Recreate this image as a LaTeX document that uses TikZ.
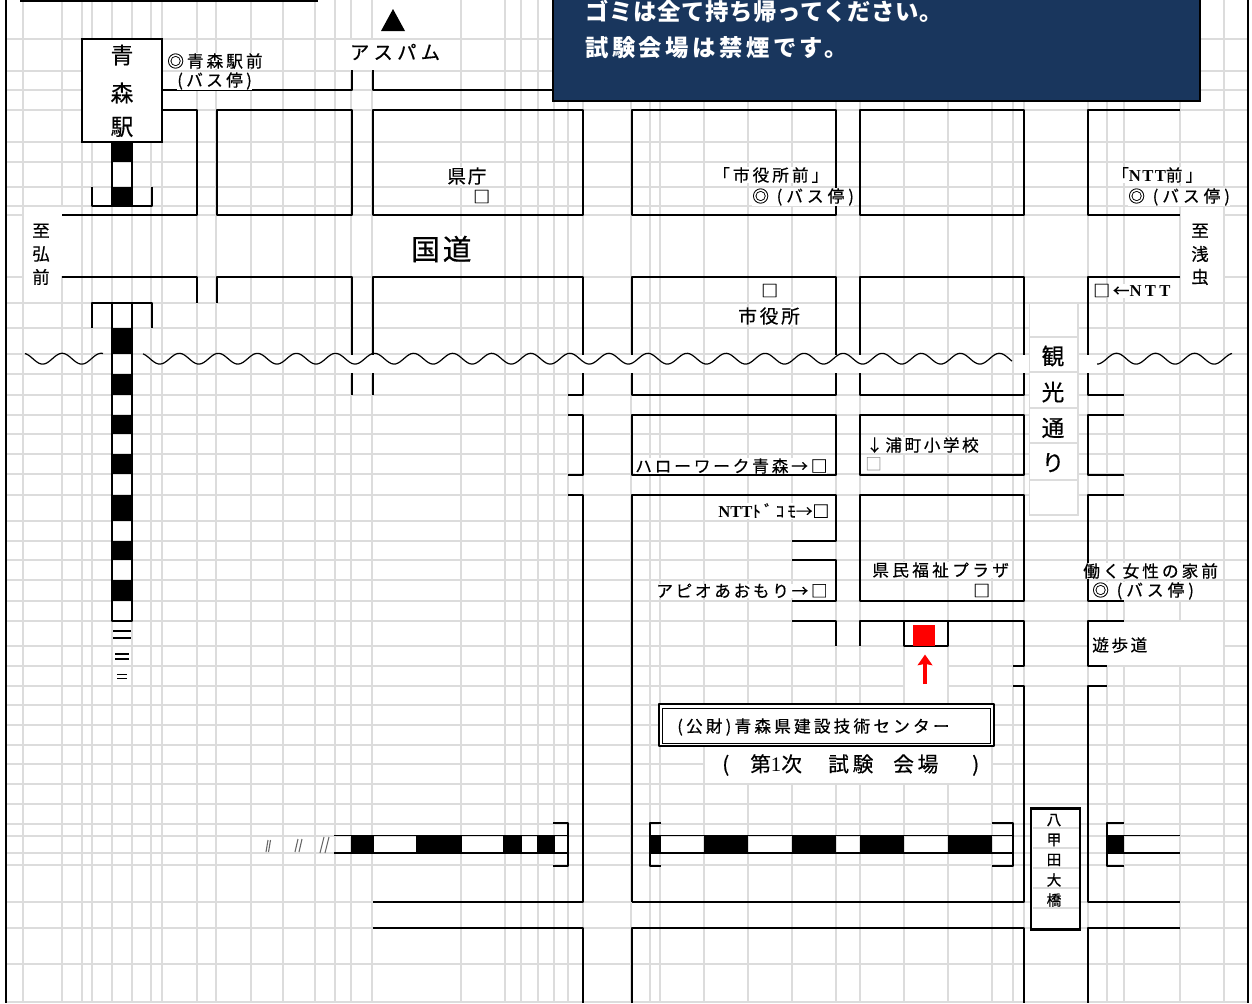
\documentclass[tikz,border=0pt]{standalone}
\usepackage{fontspec}
\usetikzlibrary{arrows.meta}
\setmainfont{Liberation Serif}
\newfontfamily\jp[FakeBold=0.5]{Noto Sans CJK JP}
\newfontfamily\jpb{Noto Sans CJK JP}
\newfontfamily\lat{Liberation Serif}
\newcommand\tfs[2]{\fontsize{#1}{#1}\selectfont\addfontfeature{LetterSpace=#2}}
\newcommand\ntt[1]{{\lat\bfseries\addfontfeature{LetterSpace=#1}NTT}}
\definecolor{gridgray}{HTML}{DCDCDC}
\definecolor{navy}{HTML}{19365D}
\tikzset{
  gridline/.style={draw=gridgray,line width=1.5pt},
  road/.style={draw=black,line width=1.5pt,line join=round},
  thinrail/.style={draw=black,line width=1.2pt,line join=round},
  wave/.style={draw=black,line width=0.9pt},
  cjkstrut/.style={execute at begin node={\rule[-.08em]{0pt}{.86em}}},
  lbl/.style={fill=white,inner sep=0pt,cjkstrut,anchor=west,font={\jp\tfs{#1}{18}}},
  lbl/.default=12.5,
  buslbl/.style={fill=white,inner sep=0pt,cjkstrut,anchor=west,font={\jp\tfs{12.5}{24}}},
  bare/.style={inner sep=0pt,cjkstrut,font={\jp\tfs{#1}{0}}},
  bare/.default=12.5,
  mask/.style={fill=white,draw=none},
  cellbox/.style={draw=gridgray,line width=1.2pt,fill=white},
  slash/.style={draw=black!60,line width=0.8pt}
}
\begin{document}
\begin{tikzpicture}[x=0.75pt,y=-0.75pt]
\useasboundingbox (0,0) rectangle (1252,1003);
\fill[white] (0,0) rectangle (1252,1003);
% spreadsheet grid
\foreach \gx in {22.7,62,81.7,92.3,112,131.7,151.3,161.7,196.7,216.3,251.3,283,315,334.7,351.3,372.3,460.7,504.7,521,537.7,554,568,582.7,631,649.7,660,704,747.7,792,836,860,904,948,992,1013,1024,1087.7,1107,1124,1180,1223.7}
  \draw[gridline] (\gx,0) -- (\gx,1003);
\foreach \gy in {38.7,70.7,90.3,109.7,142,162,186.7,206,214.7,276.7,302.7,328,354,373.5,395,415,434,454,474,495,521,541,560,580,601,621,646,666,686,705,725,745,764,784,804,824,836,853,865,902,928,964,1002}
  \draw[gridline] (6,\gy) -- (1248,\gy);
% white areas without grid
\fill[mask] (23.6,207) rectangle (63,276);
\fill[mask] (23.6,276) rectangle (61,301.8);
\fill[mask] (1181,207) rectangle (1222.8,301.8);
\fill[mask] (343,39.7) rectangle (445,69.7);
\fill[mask] (905,647) rectangle (947,704);
\fill[mask] (705,747) rectangle (991,783);
\fill[mask] (1089,622) rectangle (1222.8,665);
% borders
\draw[road,line width=2pt] (6,0) -- (6,1003);
\draw[road,line width=2pt] (1248,0) -- (1248,1003);
\draw[road] (20,0.5) -- (318,0.5);
% upper roads
\draw[road] (162,90.3) -- (352,90.3) -- (352,70);
\draw[road] (372.5,70) -- (372.5,90.3) -- (553,90.3);
\draw[road] (162,110) -- (197,110) -- (197,214.7) -- (62,214.7);
\draw[road] (216.5,110) rectangle (352,214.7);
\draw[road] (372.5,110) rectangle (583,214.7);
\draw[road] (631.5,110) rectangle (836,214.7);
\draw[road] (860,110) rectangle (1024,214.7);
\draw[road] (1180,110) -- (1088,110) -- (1088,214.7) -- (1180,214.7);
% second row of blocks
\draw[road] (62,276.7) -- (197,276.7) -- (197,302.7);
\draw[road] (216.5,302.7) -- (216.5,276.7) -- (352,276.7) -- (352,395);
\draw[road] (372.5,395) -- (372.5,276.7) -- (583,276.7) -- (583,395) -- (568,395);
\draw[road] (631.5,276.7) rectangle (836,395);
\draw[road] (860,276.7) rectangle (1024,395);
\draw[road] (1180,276.7) -- (1088,276.7) -- (1088,395) -- (1124,395);
% gaps where the wavy break crosses the roads
\foreach \gapx in {352,372.5,583,631.5,836,860,1024,1088}
  \fill[white] (\gapx-2,355) rectangle (\gapx+2,372.6);
% third row
\draw[road] (568,415) -- (583,415) -- (583,475) -- (568,475);
\draw[road] (631.5,415) rectangle (836,475);
\draw[road] (860,415) rectangle (1024,475);
\draw[road] (1124,415) -- (1088,415) -- (1088,475) -- (1124,475);
% fourth row
\draw[road] (568,495) -- (583,495) -- (583,902) -- (372.5,902);
\draw[road] (372.5,928) -- (583,928) -- (583,1003);
\draw[road] (631.5,902) -- (631.5,495) -- (836,495) -- (836,541) -- (792,541);
\draw[road] (792,560) -- (836,560) -- (836,601) -- (792,601);
\draw[road] (792,621) -- (836,621) -- (836,646);
\draw[road] (860,495) rectangle (1024,601);
\draw[road] (860,646) -- (860,621) -- (1024,621) -- (1024,666) -- (1013,666);
\draw[road] (1013,686) -- (1024,686) -- (1024,902) -- (631.5,902);
\draw[road] (631.5,1003) -- (631.5,928) -- (1024,928) -- (1024,1003);
\draw[road] (1124,495) -- (1088,495) -- (1088,601) -- (1124,601);
\draw[road] (1124,621) -- (1088,621) -- (1088,666) -- (1107,666);
\draw[road] (1107,686) -- (1088,686) -- (1088,902) -- (1180,902);
\draw[road] (1180,928) -- (1088,928) -- (1088,1003);
% target building
\draw[road] (904,621) -- (904,646) -- (948,646) -- (948,621);
\node[fill=red,inner sep=0pt,minimum width=16.1pt,minimum height=15.75pt] (redbuilding) at (924,635.5) {};
\coordinate (arrowtail) at (925,684);
\draw[red,line width=2.6pt,-{Stealth[length=8pt,width=11pt,inset=1pt]},shorten >=6.2pt] (arrowtail) -- (redbuilding.south -| arrowtail);
% vertical railway
\fill[black] (112,142) rectangle (132,162);
\fill[black] (112,186.7) rectangle (132,206);
\draw[thinrail] (112,142) -- (112,206) (132,142) -- (132,206);
\draw[thinrail] (92,186.7) -- (92,206) -- (152,206) -- (152,186.7);
\draw[thinrail] (92,328) -- (92,302.7) -- (152,302.7) -- (152,328);
\draw[thinrail] (112,302.7) -- (112,621) -- (132,621) -- (132,302.7);
\foreach \ra/\rb in {328/354,373.5/395,415/434,454/474,495/521,541/560,580/601}
  \fill[black] (112,\ra) rectangle (132,\rb);
\draw[draw=black,line width=0.9pt] (113,631) -- (131,631) (113,638) -- (131,638);
\draw[draw=black,line width=0.8pt] (115,654) -- (129,654) (115,659) -- (129,659);
\draw[draw=black,line width=0.7pt] (117,674) -- (127,674) (117,678) -- (127,678);
% horizontal railway, left part
\foreach \ra/\rb in {351/374,416/462,503/522,537/555}
  \fill[black] (\ra,835.5) rectangle (\rb,853);
\draw[thinrail] (334,835.5) -- (568,835.5) (334,853) -- (568,853);
\draw[thinrail] (553,823) -- (568,823) -- (568,866) -- (553,866);
\draw[slash] (266,852) -- (268,840) (268.5,852) -- (270.5,840);
\draw[slash] (295,852) -- (298,839) (299,852) -- (302,839);
\draw[slash] (320,853) -- (324,837) (325,853) -- (329,837);
% horizontal railway, middle part
\foreach \ra/\rb in {650/661,704/748,792/836,860/904,948/992}
  \fill[black] (\ra,835.5) rectangle (\rb,853);
\draw[thinrail] (650,835.5) -- (1013,835.5) (650,853) -- (1013,853);
\draw[thinrail] (661,823) -- (650,823) -- (650,866) -- (661,866);
\draw[thinrail] (992,823) -- (1013,823) -- (1013,866) -- (992,866);
% horizontal railway, right part
\fill[black] (1107,835.5) rectangle (1124,853);
\draw[thinrail] (1107,835.5) -- (1180,835.5) (1107,853) -- (1180,853);
\draw[thinrail] (1124,823) -- (1107,823) -- (1107,866) -- (1124,866);
% wavy break lines
\foreach \wa/\wb in {25/103,143/1012,1097/1232}
  \draw[wave] plot[domain=\wa:\wb,samples=400] (\x,{358.7-5.4*cos((\x-62.15)/39.05*360)});
% navy notice
\fill[navy,draw=black,line width=0.8pt] (553,-2) rectangle (1200,101);
\node[inner sep=0pt,anchor=west,text=white,font={\jpb\bfseries\tfs{17.5}{3}}] (notice1) at (585,11) {ゴミは全て持ち帰ってください。};
\node[inner sep=0pt,anchor=west,text=white,font={\jpb\bfseries\tfs{17.5}{15}}] (notice2) at (585,48) {試験会場は禁煙です。};
% Aomori station
\node[draw=black,line width=1.2pt,fill=white,minimum width=60pt,minimum height=77pt,inner sep=0pt] (station) at (122,90.5) {};
\node[bare=17] (st1) at (122,55) {青};
\node[bare=17] (st2) at (122,93) {森};
\node[bare=17] (st3) at (122,127) {駅};
% labels
\node[fill=white,inner sep=0pt,font={\jp\tfs{14.5}{22}}] (aspam) at (395,52) {アスパム};
\fill[black] (381,31) -- (393,9) -- (405,31) -- cycle;
\node[lbl] (aomoriekimae) at (167,61) {◎青森駅前};
\node[lbl,font={\jp\tfs{12.5}{20}}] (bus1) at (177,81) {(バス停)};
\node[lbl,font={\jp\tfs{14}{10}}] (kencho) at (447,176) {県庁};
\node[lbl] (kenchobox) at (473,197) {□};
\node[lbl] (shiyakushomae) at (713,175) {「市役所前」};
\node[buslbl] (bus2) at (752,197) {◎ (バス停)};
\node[lbl] (nttmae) at (1112,175) {「\ntt{8}前」};
\node[buslbl] (bus3) at (1128,197) {◎ (バス停)};
\node[bare=13] (hi1) at (41,231) {至};
\node[bare=13] (hi2) at (41,254) {弘};
\node[bare=13] (hi3) at (41,277) {前};
\node[bare=13] (as1) at (1200,231) {至};
\node[bare=13] (as2) at (1200,254) {浅};
\node[bare=13] (as3) at (1200,277) {虫};
\node[lbl,font={\jp\tfs{21.5}{10}}] (kokudo) at (411,249) {国道};
\node[lbl] (shiyakushobox) at (761,291) {□};
\node[lbl,font={\jp\tfs{14}{15}}] (shiyakusho) at (738,316) {市役所};
\node[lbl] (ntt) at (1093,291) {□←\ntt{20}};
% sightseeing street
\draw[cellbox] (1029.5,303) rectangle (1078,515);
\foreach \cy in {337,372,408,443,480}
  \draw[draw=gridgray,line width=1.2pt] (1029.5,\cy) -- (1078,\cy);
\node[bare=17] (k1) at (1053,356) {観};
\node[bare=17] (k2) at (1053,392) {光};
\node[bare=17] (k3) at (1053,428) {通};
\node[bare=17] (k4) at (1053,463) {り};
% facilities
\node[lbl,font={\jp\tfs{12.5}{17}}] (hello) at (635,466) {ハローワーク青森→□};
\node[lbl,font={\jp\tfs{12.5}{15}}] (urama) at (866,445) {↓浦町小学校};
\node[lbl,text=gray,font={\jpb\tfs{12.5}{0}}] (uramabox) at (865,465) {□};
\node[lbl,font={\jp\tfs{12.5}{0}}] (docomo) at (718,511) {\ntt{0}{\addfontfeature{LetterSpace=20}ﾄﾞｺﾓ}→□};
\node[lbl,font={\jp\tfs{12.5}{16}}] (apio) at (656,591) {アピオあおもり→□};
\node[lbl,font={\jp\tfs{12.5}{20}}] (plaza) at (872,570) {県民福祉プラザ};
\node[lbl] (plazabox) at (973,591) {□};
\node[lbl] (joseimae) at (1083,571) {働く女性の家前};
\node[buslbl] (bus4) at (1092,591) {◎ (バス停)};
\node[lbl,font={\jp\tfs{12.5}{15}}] (yuhodo) at (1092,645) {遊歩道};
% venue box
\draw[road,fill=white] (658.5,704) rectangle (993.5,746);
\draw[draw=black,line width=0.7pt] (662,708) rectangle (990.5,743);
\node[bare,anchor=west,font={\jp\tfs{12.5}{19}}] (center) at (677,727) {(公財)青森県建設技術センター};
\node[bare,anchor=west,font={\jp\tfs{15.5}{18}}] (venue) at (722,765) {\makebox[21pt][l]{(}\makebox[58.5pt][l]{第{\lat 1}次}\makebox[48.75pt][l]{試験}\makebox[59.25pt][l]{会場})};
% Hakkoda bridge
\draw[draw=black,line width=2pt,fill=white] (1031,808.5) rectangle (1080,929.5);
\foreach \cy in {828,848,868,888,908}
  \draw[draw=gridgray,line width=1pt] (1032.5,\cy) -- (1078.5,\cy);
\node[bare=11] (b1) at (1054,820) {八};
\node[bare=11] (b2) at (1054,840) {甲};
\node[bare=11] (b3) at (1054,860) {田};
\node[bare=11] (b4) at (1054,880) {大};
\node[bare=11] (b5) at (1054,900) {橋};
\end{tikzpicture}
\end{document}
